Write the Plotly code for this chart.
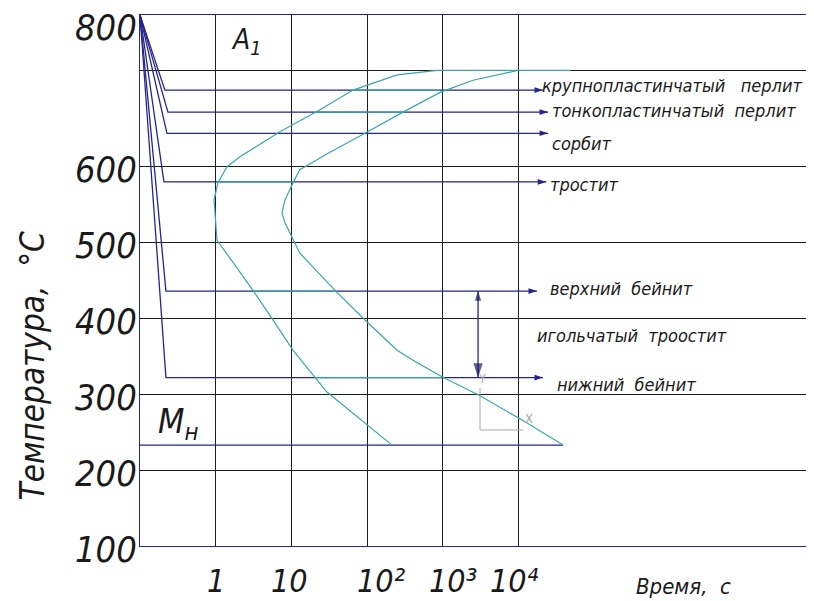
import numpy as np
import plotly.graph_objects as go

# ---------------- data ----------------
T_START = 800          # austenitizing temperature, °C
T_ORIGIN = 0.1         # time origin on the log axis, s
A1_TEMP = 727
MS_TEMP = 233

y_tick_vals = [800, 600, 500, 400, 300, 200, 100]
y_tick_text = ["800", "600", "500", "400", "300", "200", "100"]
x_tick_vals = [1, 10, 100, 1000, 10000]
x_tick_text = ["1", "10", "10\u00b2", "10\u00b3", "10\u2074"]

# C-curve: start of transformation
start_time = [836, 248, 65, 23.8, 7.05, 2.09, 1.41, 1.07, 0.95, 0.98, 1.04,
              1.69, 3.10, 5.70, 10.5, 29.4, 99.4, 213]
start_temp = [727, 721, 701, 675, 646, 613, 600, 579, 556, 536, 503,
              474, 437, 398, 358, 303, 260, 233]
# C-curve: end of transformation
finish_time = [9820, 2500, 916, 297, 93.5, 32.3, 12.9, 10.5, 8.2, 7.5, 8.2,
               10.5, 12.9, 37.6, 93.5, 248, 403, 973, 3090, 11090, 38600]
finish_temp = [727, 714, 698, 672, 644, 619, 596, 579, 556, 539, 526,
               503, 486, 437, 398, 358, 345, 323, 298, 266, 233]
a1_teal_end = 48000

# cooling paths (isothermal holds)
cool_names = ["крупнопластинчатый\u00a0\u00a0\u00a0перлит",
              "тонкопластинчатый\u00a0\u00a0перлит",
              "сорбит", "тростит", "верхний\u00a0\u00a0бейнит",
              "нижний\u00a0\u00a0бейнит"]
cool_temp = [701, 672, 644, 580, 436, 322]
cool_knee_time = [0.213, 0.234, 0.227, 0.207, 0.22, 0.22]
cool_end_time = [21000, 24500, 24500, 23200, 17500, 21000]
teal_from = [65, 21, None, 1.07, 3.1, 20.5]
teal_to = [916, 297, None, 10.5, 37.6, 973]

middle_label = "игольчатый\u00a0\u00a0троостит"
bainite_arrow_time = 2910

x_title = "Время,\u00a0\u00a0с"
y_title = "Температура,\u00a0\u00a0°С"

# ---------------- styles ----------------
NAVY = "#25258c"
TEAL = "#3aa7a7"
GRID = "#1c1c1c"
TXT = "#1a1a1a"
GRAY = "#a8a8a8"
FONT = "DejaVu Sans Condensed, Liberation Sans Narrow, sans-serif"

fig = go.Figure()

def line(x, y, color, width=1.2):
    fig.add_trace(go.Scatter(x=x, y=y, mode="lines", hoverinfo="skip",
                             showlegend=False,
                             line=dict(color=color, width=width)))

# cooling paths
for T, k, e in zip(cool_temp, cool_knee_time, cool_end_time):
    line([T_ORIGIN, k, e], [T_START, T, T], NAVY, 1.3)
# Ms line
line([T_ORIGIN, finish_time[-1]], [MS_TEMP, MS_TEMP], NAVY, 1.3)

# teal highlighted pieces between the curves
for T, a, b in zip(cool_temp, teal_from, teal_to):
    if a is not None:
        line([a, b], [T, T], TEAL, 1.3)
line([start_time[0], a1_teal_end], [A1_TEMP, A1_TEMP], TEAL, 1.3)

# C-curves
line(start_time, start_temp, TEAL, 1.2)
line(finish_time, finish_temp, TEAL, 1.2)

# arrow heads at the end of cooling paths
fig.add_trace(go.Scatter(x=cool_end_time, y=cool_temp, mode="markers",
                         hoverinfo="skip", showlegend=False,
                         marker=dict(symbol="arrow", angle=90, size=9,
                                     color=NAVY, line=dict(width=0))))

# vertical double arrow between upper and lower bainite
line([bainite_arrow_time, bainite_arrow_time], [cool_temp[4], cool_temp[5]], NAVY, 1.3)
fig.add_trace(go.Scatter(x=[bainite_arrow_time, bainite_arrow_time],
                         y=[cool_temp[4], cool_temp[5]], mode="markers",
                         hoverinfo="skip", showlegend=False,
                         marker=dict(symbol="arrow", angle=[0, 180], size=[10, 15],
                                     color="#151560", line=dict(width=0))))

# CAD coordinate-system icon (gray)
ucs_t = [3090, 3090, 11500]
ucs_T = [308, 253, 253]
line(ucs_t, ucs_T, GRAY, 1)

annotations = []
# y tick labels
for v, t in zip(y_tick_vals, y_tick_text):
    annotations.append(dict(x=0, xref="paper", y=v, yref="y", text=t,
                            showarrow=False, xanchor="right", yanchor="middle",
                            xshift=-1, yshift=-12 if v == 800 else -3,
                            font=dict(size=36, color=TXT, family=FONT, style="italic")))
# x tick labels
x_label_shift = [0, -2, 14, 10, -4]
for v, t, dx in zip(x_tick_vals, x_tick_text, x_label_shift):
    annotations.append(dict(x=np.log10(v), xref="x", y=0, yref="paper", text=t,
                            showarrow=False, xanchor="center", yanchor="middle",
                            yshift=-35, xshift=dx,
                            font=dict(size=32, color=TXT, family=FONT, style="italic")))
# cooling path labels
label_dx = [-3, 2, 2, 2, 11, 12]
label_dy = [5, 2, -10, -3, 3, -7]
for name, T, e, dx, dy in zip(cool_names, cool_temp, cool_end_time, label_dx, label_dy):
    annotations.append(dict(x=np.log10(e), xref="x", y=T, yref="y", text=name,
                            showarrow=False, xanchor="left", yanchor="middle",
                            xshift=dx, yshift=dy,
                            font=dict(size=18, color=TXT, family=FONT, style="italic")))
annotations.append(dict(x=np.log10(cool_end_time[4]), xref="x",
                        y=(cool_temp[4] + cool_temp[5]) / 2 - 1, yref="y",
                        text=middle_label, showarrow=False, xanchor="left",
                        yanchor="middle", xshift=-2,
                        font=dict(size=18, color=TXT, family=FONT, style="italic")))
# A1 and Mн
annotations.append(dict(x=np.log10(1), xref="x", y=A1_TEMP, yref="y",
                        text="A<sub>1</sub>", showarrow=False, xanchor="left",
                        yanchor="bottom", xshift=13, yshift=8,
                        font=dict(size=28, color=TXT, family=FONT, style="italic")))
annotations.append(dict(x=np.log10(T_ORIGIN), xref="x", y=MS_TEMP, yref="y",
                        text="M<sub>н</sub>", showarrow=False, xanchor="left",
                        yanchor="bottom", xshift=16, yshift=-3,
                        font=dict(size=34, color=TXT, family=FONT, style="italic")))
# UCS icon letters
annotations.append(dict(x=np.log10(ucs_t[0]), xref="x", y=ucs_T[0], yref="y",
                        text="Y", showarrow=False, xanchor="center", yanchor="bottom",
                        xshift=2, yshift=0, font=dict(size=12, color=GRAY, family=FONT)))
annotations.append(dict(x=np.log10(ucs_t[2]), xref="x", y=ucs_T[2], yref="y",
                        text="X", showarrow=False, xanchor="left", yanchor="bottom",
                        xshift=0, yshift=2, font=dict(size=13, color=GRAY, family=FONT)))
# axis titles
annotations.append(dict(x=1, xref="paper", y=0, yref="paper", text=x_title,
                        showarrow=False, xanchor="center", yanchor="middle",
                        xshift=-131, yshift=-40,
                        font=dict(size=22, color=TXT, family=FONT, style="italic")))
annotations.append(dict(x=0, xref="paper", y=0.34, yref="paper", text=y_title,
                        showarrow=False, xanchor="center", yanchor="middle",
                        xshift=-108, textangle=-90,
                        font=dict(size=33, color=TXT, family=FONT, style="italic")))

fig.update_layout(
    width=806, height=593,
    margin=dict(l=132, r=0, t=7, b=55),
    paper_bgcolor="white", plot_bgcolor="white",
    showlegend=False,
    annotations=annotations,
    xaxis=dict(type="log", range=[-1, 7.9], tickvals=x_tick_vals,
               showticklabels=False, ticks="", showgrid=True,
               gridcolor=GRID, gridwidth=1, zeroline=False,
               showline=True, linecolor=NAVY, linewidth=1.3, mirror=True),
    yaxis=dict(range=[100, 800], tickvals=[200, 300, 400, 500, 600, A1_TEMP],
               showticklabels=False, ticks="", showgrid=True,
               gridcolor=GRID, gridwidth=1, zeroline=False,
               showline=True, linecolor=NAVY, linewidth=1.3, mirror=False),
)

fig.write_html("out.html")
